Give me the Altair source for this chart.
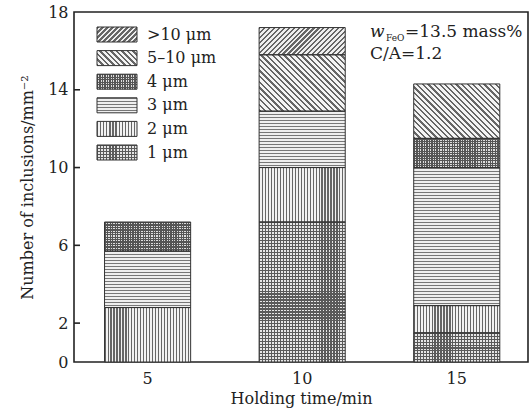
import math
import altair as alt
import pandas as pd

# ---------------- data ----------------
times = [5, 10, 15]
sizes = ["1 μm", "2 μm", "3 μm", "4 μm", "5–10 μm", ">10 μm"]   # stack order, bottom -> top
v_1um = [0.0, 7.2, 1.5]
v_2um = [2.8, 2.8, 1.4]
v_3um = [2.9, 2.9, 7.1]
v_4um = [1.5, 0.0, 1.5]
v_5_10um = [0.0, 2.9, 2.8]
v_gt10um = [0.0, 1.4, 0.0]
y_labels = [0, 2, 6, 10, 14, 18]
y_ticks = [2, 6, 10, 14]
legend_order = [">10 μm", "5–10 μm", "4 μm", "3 μm", "2 μm", "1 μm"]
x_title = "Holding time/min"
y_title = "Number of inclusions/mm⁻²"
ann_w = "w"
ann_sub = "FeO"
ann_rest = "=13.5 mass%"
ann_2 = "C/A=1.2"

series = [v_1um, v_2um, v_3um, v_4um, v_5_10um, v_gt10um]
rows = []
for ti, t in enumerate(times):
    base = 0.0
    for s, vals in zip(sizes, series):
        v = vals[ti]
        rows.append({"time": t, "cls": s, "value": v, "y0": base, "y1": base + v})
        base += v
df = pd.DataFrame(rows)

# ---------------- layout / style ----------------
W, H = 454, 350
PI, PO, AL = 0.443, 0.19, 0.52
BW = W / (3 - PI + 2 * PO) * (1 - PI)
PX_PER_UNIT = H / 18.0
FONT = "DejaVu Serif"
TR = "rgba(255,255,255,0)"

def stripes(n, w, h, pitch, duty, dark, light):
    nx, ny = n
    nrm = math.hypot(nx, ny)
    nx, ny = nx / nrm, ny / nrm
    corners = [(0, 0), (w, 0), (0, h), (w, h)]
    proj = [cx * nx + cy * ny for cx, cy in corners]
    i_min = proj.index(min(proj))
    L = max(proj) - min(proj)
    k = L / (nx * nx * w * w + ny * ny * h * h)
    sx, sy = corners[i_min][0] / w, corners[i_min][1] / h
    ex, ey = sx + k * nx * w, sy + k * ny * h
    N = max(1, int(round(L / pitch)))
    stops = []
    for i in range(N):
        a, b, c = i / N, (i + duty) / N, (i + 1) / N
        stops += [{"offset": a, "color": dark}, {"offset": b, "color": dark},
                  {"offset": b, "color": light}, {"offset": c, "color": light}]
    return {"gradient": "linear", "x1": sx, "y1": sy, "x2": ex, "y2": ey, "stops": stops}

D = 0.7071
patterns = {
    "1 μm": [((0, 1), 3.0, 0.40, "#5a5a5a", "#e6e6e6"), ((1, 0), 3.0, 0.40, "#5a5a5a", TR)],
    "2 μm": [((1, 0), 3.0, 0.40, "#666666", "#f2f2f2")],
    "3 μm": [((0, 1), 3.0, 0.40, "#777777", "#efefef")],
    "4 μm": [((0, 1), 2.5, 0.50, "#555555", "#dddddd"), ((1, 0), 2.5, 0.50, "#555555", TR)],
    "5–10 μm": [((D, -D), 4.0, 0.40, "#666666", "#f4f4f4")],
    ">10 μm": [((D, D), 3.5, 0.45, "#666666", "#eeeeee")],
}

X = alt.X("time:O",
          scale=alt.Scale(paddingInner=PI, paddingOuter=PO, align=AL),
          axis=alt.Axis(title=x_title, labelAngle=0, ticks=False, domain=False,
                        labelPadding=8, titlePadding=4))
Y = alt.Y("y0:Q", scale=alt.Scale(domain=[0, 18], nice=False, zero=True),
          axis=alt.Axis(title=y_title, values=y_labels, ticks=False, domain=False, grid=False,
                        labelPadding=6, titlePadding=12))

layers = []
for r in rows:
    if r["value"] <= 0:
        continue
    h = r["value"] * PX_PER_UNIT
    for (n, pitch, duty, dark, light) in patterns[r["cls"]]:
        g = stripes(n, BW, h, pitch, duty, dark, light)
        layers.append(
            alt.Chart(df)
            .transform_filter((alt.datum.cls == r["cls"]) & (alt.datum.time == r["time"]))
            .mark_bar(fill=g, strokeWidth=0)
            .encode(x=X, y=Y, y2="y1:Q")
        )

outline = (alt.Chart(df).transform_filter(alt.datum.value > 0)
           .mark_bar(fill="transparent", stroke="#333333", strokeWidth=1)
           .encode(x=X, y=Y, y2="y1:Q"))
layers.append(outline)

ticks = (alt.Chart(pd.DataFrame({"y0": y_ticks})).mark_rule(color="#222222", strokeWidth=1.6)
         .encode(y=Y, x=alt.value(0), x2=alt.value(6)))
layers.append(ticks)

# legend (inside the plot, upper left)
LX, LY, LW, LH, LP = 23, 15, 40, 15, 23.6
leg_df = pd.DataFrame({"label": legend_order, "idx": list(range(len(legend_order)))})
for i, lab in enumerate(legend_order):
    for (n, pitch, duty, dark, light) in patterns[lab]:
        g = stripes(n, LW, LH, pitch, duty, dark, light)
        layers.append(
            alt.Chart(leg_df).transform_filter(alt.datum.label == lab)
            .mark_rect(fill=g, strokeWidth=0)
            .encode(x=alt.value(LX), x2=alt.value(LX + LW),
                    y=alt.value(LY + i * LP), y2=alt.value(LY + i * LP + LH))
        )
    layers.append(
        alt.Chart(leg_df).transform_filter(alt.datum.label == lab)
        .mark_rect(fill="transparent", stroke="#333333", strokeWidth=1)
        .encode(x=alt.value(LX), x2=alt.value(LX + LW),
                y=alt.value(LY + i * LP), y2=alt.value(LY + i * LP + LH))
    )
leg_text = (alt.Chart(leg_df)
            .transform_calculate(px=str(LX + LW + 10), py=f"{LY + LH / 2} + datum.idx * {LP}")
            .mark_text(align="left", baseline="middle", fontSize=16, color="#222222")
            .encode(x=alt.X("px:Q", scale=None), y=alt.Y("py:Q", scale=None), text="label:N"))
layers.append(leg_text)

# annotation (upper right)
one = pd.DataFrame({"k": [0]})
ann = [
    alt.Chart(one).mark_text(text=ann_w, align="left", baseline="middle", fontSize=17,
                             fontStyle="italic", color="#222222")
    .encode(x=alt.value(296), y=alt.value(20)),
    alt.Chart(one).mark_text(text=ann_sub, align="left", baseline="middle", fontSize=9,
                             color="#222222")
    .encode(x=alt.value(312), y=alt.value(26)),
    alt.Chart(one).mark_text(text=ann_rest, align="left", baseline="middle", fontSize=17,
                             color="#222222")
    .encode(x=alt.value(331), y=alt.value(20)),
    alt.Chart(one).mark_text(text=ann_2, align="left", baseline="middle", fontSize=17,
                             color="#222222")
    .encode(x=alt.value(296), y=alt.value(42)),
]
layers += ann

chart = (alt.layer(*layers)
         .properties(width=W, height=H,
                     padding={"left": 74, "top": 12, "right": 1, "bottom": 51},
                     autosize=alt.AutoSizeParams(type="none"))
         .configure(font=FONT)
         .configure_view(stroke="#222222", strokeWidth=1.6)
         .configure_axis(labelFontSize=16, titleFontSize=16, titleFontWeight="normal",
                         labelColor="#222222", titleColor="#222222", labelFont=FONT, titleFont=FONT))

chart.save("out.html", embed_options={"renderer": "svg", "actions": False})
